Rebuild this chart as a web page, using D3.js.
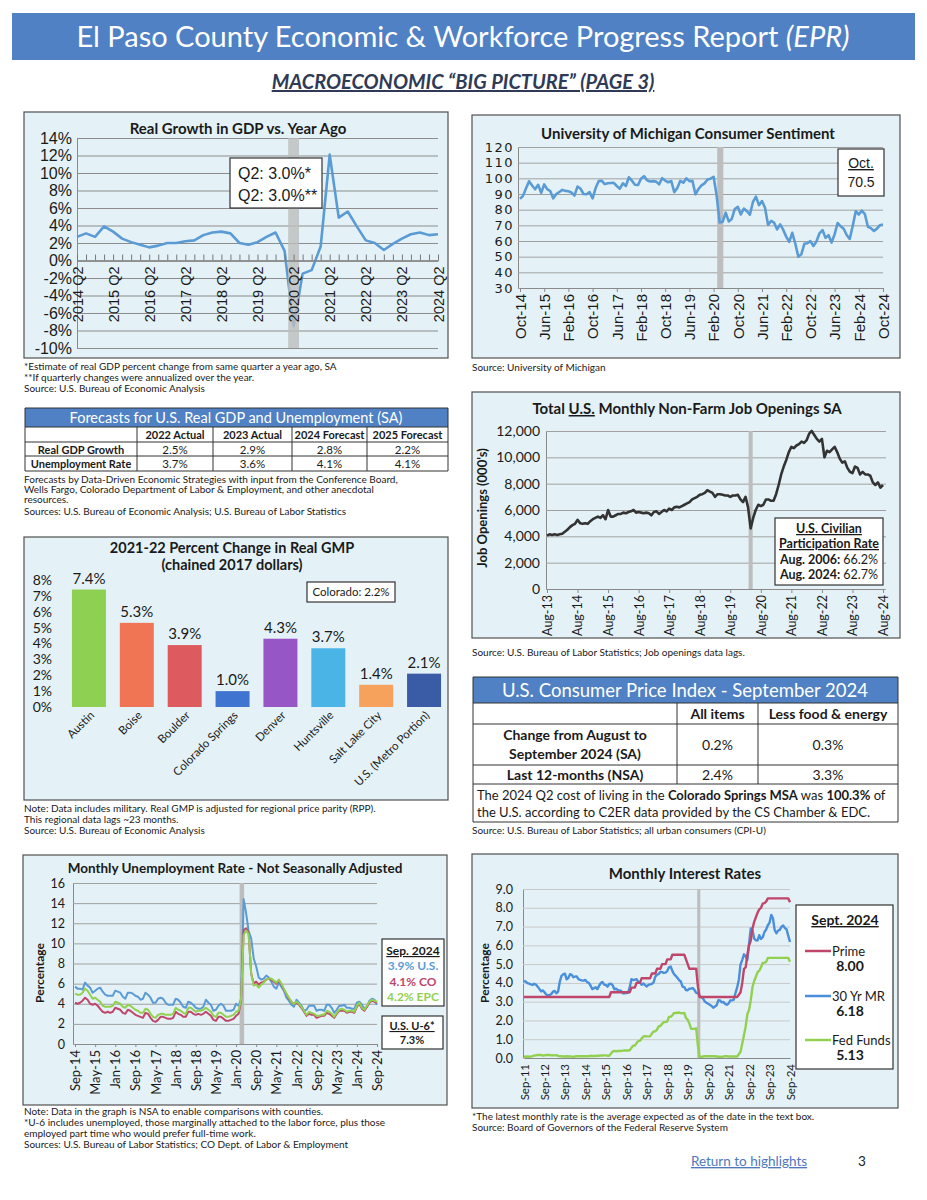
<!DOCTYPE html>
<html>
<head>
<meta charset="utf-8">
<script src="https://cdn.jsdelivr.net/npm/d3@7"></script>
<style>
  body { margin: 0; background: #fff; }
</style>
</head>
<body>
<svg id="page" width="927" height="1200"></svg>
<script>
// ---------- data ----------
const gdpTickLabels = ['2014 Q2', '2015 Q2', '2016 Q2', '2017 Q2', '2018 Q2', '2019 Q2', '2020 Q2', '2021 Q2', '2022 Q2', '2023 Q2', '2024 Q2'];
const gdpYTicks = [-10, -8, -6, -4, -2, 0, 2, 4, 6, 8, 10, 12, 14];
// 2014 Q2 .. 2024 Q2, % change from same quarter a year ago
const gdpGrowth = [
  2.7, 3.1, 2.7,
  3.9, 3.3, 2.5, 2.1,
  1.8, 1.5, 1.7, 2.0,
  2.0, 2.2, 2.3, 2.9,
  3.2, 3.3, 3.1, 2.0,
  1.8, 2.1, 2.7, 3.2,
  1.1, -7.5, -1.5, -1.1,
  1.6, 12.1, 4.9, 5.6,
  3.9, 2.3, 2.0, 1.2,
  1.9, 2.5, 3.0, 3.2,
  2.9, 3.0
];

const forecastCols = ['2022 Actual', '2023 Actual', '2024 Forecast', '2025 Forecast'];
const forecastRows = ['Real GDP Growth', 'Unemployment Rate'];
const forecastGdp = ['2.5%', '2.9%', '2.8%', '2.2%'];
const forecastUnemp = ['3.7%', '3.6%', '4.1%', '4.1%'];

const gmpCities = ['Austin', 'Boise', 'Boulder', 'Colorado Springs', 'Denver', 'Huntsville', 'Salt Lake City', 'U.S. (Metro Portion)'];
const gmpChange = [7.4, 5.3, 3.9, 1.0, 4.3, 3.7, 1.4, 2.1];
const gmpYTicks = [0, 1, 2, 3, 4, 5, 6, 7, 8];

const unempTickLabels = ['Sep-14', 'May-15', 'Jan-16', 'Sep-16', 'May-17', 'Jan-18', 'Sep-18', 'May-19', 'Jan-20', 'Sep-20', 'May-21', 'Jan-22', 'Sep-22', 'May-23', 'Jan-24', 'Sep-24'];
const unempYTicks = [0, 2, 4, 6, 8, 10, 12, 14, 16];
// monthly, Sep-14 .. Sep-24
const unempUS = [
  5.7, 5.5, 5.5, 5.4,
  6.1, 5.8, 5.6, 5.1, 5.3, 5.5, 5.6, 5.2, 4.9, 4.8, 4.8, 4.8,
  5.3, 5.2, 5.1, 4.7, 4.5, 5.1, 5.1, 5.0, 4.8, 4.7, 4.4, 4.5,
  5.1, 4.9, 4.6, 4.1, 4.1, 4.5, 4.6, 4.5, 4.1, 3.9, 3.9, 3.9,
  4.5, 4.4, 4.1, 3.7, 3.6, 4.2, 4.1, 3.9, 3.6, 3.5, 3.5, 3.7,
  4.4, 4.1, 3.9, 3.3, 3.4, 3.8, 4.0, 3.8, 3.3, 3.3, 3.3, 3.4,
  4.0, 3.8, 4.5, 14.4, 13.0, 11.2, 10.5, 8.5, 7.7, 6.6, 6.4, 6.5,
  6.8, 6.6, 6.2, 5.7, 5.5, 6.1, 5.7, 5.3, 4.6, 4.3, 3.9, 3.7,
  4.4, 4.1, 3.8, 3.3, 3.4, 3.8, 3.8, 3.8, 3.3, 3.4, 3.4, 3.3,
  3.9, 3.9, 3.6, 3.1, 3.4, 3.8, 3.8, 3.9, 3.6, 3.6, 3.5, 3.5,
  4.1, 4.2, 3.9, 3.5, 3.7, 4.3, 4.5, 4.4, 3.9
];
const unempCO = [
  4.1, 4.0, 4.1, 4.3,
  4.6, 4.4, 4.0, 3.9, 4.0, 3.8, 3.5, 3.2, 3.1, 3.2, 3.1, 3.2,
  3.6, 3.5, 3.4, 3.1, 3.0, 3.4, 3.3, 3.1, 2.9, 2.8, 2.7, 2.6,
  3.1, 3.0, 2.6, 2.3, 2.2, 2.4, 2.7, 2.7, 2.6, 2.5, 2.5, 2.6,
  3.2, 3.0, 2.9, 2.7, 2.7, 3.2, 3.2, 3.0, 2.9, 3.0, 2.9, 3.0,
  3.2, 3.0, 2.8, 2.4, 2.3, 2.7, 2.7, 2.5, 2.3, 2.3, 2.4, 2.5,
  2.8, 3.0, 4.3, 11.3, 11.5, 11.0, 7.0, 6.0, 6.2, 5.9, 6.1, 6.2,
  6.4, 6.5, 6.4, 6.2, 6.0, 6.3, 5.9, 5.4, 5.0, 4.5, 4.2, 4.0,
  4.1, 3.9, 3.6, 3.2, 2.8, 3.0, 2.9, 2.9, 2.6, 2.7, 2.8, 2.8,
  3.1, 3.0, 2.8, 2.6, 3.0, 3.3, 3.3, 3.3, 3.1, 3.2, 3.2, 3.1,
  3.7, 4.0, 3.5, 3.3, 3.7, 4.1, 4.3, 4.2, 4.1
];
const unempEPC = [
  5.0, 4.9, 4.9, 5.1,
  5.5, 5.3, 4.9, 4.5, 4.6, 4.4, 4.2, 3.8, 3.7, 3.7, 3.7, 3.8,
  4.2, 4.1, 4.0, 3.7, 3.6, 3.9, 3.8, 3.6, 3.4, 3.3, 3.1, 3.1,
  3.5, 3.4, 3.0, 2.7, 2.6, 2.9, 3.0, 3.0, 2.9, 2.9, 2.9, 3.0,
  3.6, 3.4, 3.3, 3.1, 3.0, 3.6, 3.6, 3.4, 3.2, 3.3, 3.3, 3.4,
  3.6, 3.4, 3.2, 2.8, 2.7, 3.1, 3.1, 2.9, 2.7, 2.7, 2.8, 2.9,
  3.2, 3.3, 4.5, 10.8, 11.3, 10.9, 7.0, 5.8, 5.9, 5.6, 5.9, 6.1,
  6.4, 6.5, 6.5, 6.3, 6.1, 6.4, 6.0, 5.5, 5.0, 4.6, 4.2, 4.0,
  4.2, 4.0, 3.7, 3.3, 2.9, 3.2, 3.1, 3.0, 2.8, 2.8, 2.9, 2.9,
  3.3, 3.2, 3.0, 2.7, 3.1, 3.4, 3.5, 3.4, 3.2, 3.3, 3.3, 3.2,
  3.8, 4.1, 3.6, 3.4, 3.8, 4.2, 4.4, 4.3, 4.2
];

const sentimentTickLabels = ['Oct-14', 'Jun-15', 'Feb-16', 'Oct-16', 'Jun-17', 'Feb-18', 'Oct-18', 'Jun-19', 'Feb-20', 'Oct-20', 'Jun-21', 'Feb-22', 'Oct-22', 'Jun-23', 'Feb-24', 'Oct-24'];
const sentimentYTicks = [30, 40, 50, 60, 70, 80, 90, 100, 110, 120];
// monthly, Oct-14 .. Oct-24
const sentiment = [
  86.9, 88.8, 93.6,
  98.1, 95.4, 93.0, 95.9, 90.7, 96.1, 93.1, 91.9, 87.2, 90.0, 91.3, 92.6,
  92.0, 91.7, 91.0, 89.0, 94.7, 93.5, 90.0, 89.8, 91.2, 87.2, 93.8, 98.2,
  98.5, 96.3, 96.9, 97.0, 97.1, 95.1, 93.4, 96.8, 95.1, 100.7, 98.5, 95.9,
  95.7, 99.7, 101.4, 98.8, 98.0, 98.2, 97.9, 96.2, 100.1, 98.6, 97.5, 98.3,
  91.2, 93.8, 98.4, 97.2, 100.0, 98.2, 98.4, 89.8, 93.2, 95.5, 96.8, 99.3,
  99.8, 101.0, 89.1, 71.8, 72.3, 78.1, 72.5, 74.1, 80.4, 81.8, 76.9, 80.7,
  79.0, 76.8, 84.9, 88.3, 82.9, 85.5, 81.2, 70.3, 72.8, 71.7, 67.4, 70.6,
  67.2, 62.8, 59.4, 65.2, 58.4, 50.0, 51.5, 58.2, 58.6, 59.9, 56.8, 59.7,
  64.9, 67.0, 62.0, 63.7, 59.0, 64.2, 71.5, 69.4, 67.8, 63.8, 61.3, 69.7,
  79.0, 76.9, 79.4, 77.2, 69.1, 68.2, 66.4, 67.9, 70.1, 70.5
];

const openingsTickLabels = ['Aug-13', 'Aug-14', 'Aug-15', 'Aug-16', 'Aug-17', 'Aug-18', 'Aug-19', 'Aug-20', 'Aug-21', 'Aug-22', 'Aug-23', 'Aug-24'];
const openingsYTicks = [0, 2000, 4000, 6000, 8000, 10000, 12000];
// monthly, Aug-13 .. Aug-24, thousands
const jobOpenings = [
  4050, 4150, 4100, 4150, 4100,
  4150, 4200, 4350, 4500, 4700, 4850, 4950, 5250, 5000, 4950, 5000, 4950,
  5150, 5300, 5400, 5500, 5400, 5600, 5300, 6000, 5500, 5500, 5600, 5700,
  5700, 5800, 5750, 5850, 5900, 6000, 5800, 5850, 5800, 5750, 5800, 5750,
  5600, 5850, 5900, 5700, 5850, 6000, 5900, 6100, 6000, 6200, 6250, 6200,
  6300, 6400, 6500, 6600, 6800, 6900, 7000, 7150, 7200, 7300, 7500, 7400,
  7300, 7000, 7200, 7200, 7150, 7100, 7100, 7000, 7100, 7100, 7150, 6800,
  6600, 7000, 6200, 4600, 5400, 6000, 6400, 6300, 6400, 6800, 6800, 6700,
  6700, 7200, 7900, 8700, 9300, 9800, 10400, 10800, 10700, 10900, 11000, 11200,
  11100, 11300, 11800, 12000, 11700, 11400, 11200, 11400, 10000, 10500, 10400, 10600,
  10800, 10400, 9900, 9600, 9700, 9200, 8900, 8800, 9300, 9200, 8700, 8900,
  8700, 8700, 8600, 8100, 7900, 8100, 7700, 7900
];

const cpiCols = ['All items', 'Less food & energy'];
const cpiMonthly = ['0.2%', '0.3%'];
const cpiAnnual = ['2.4%', '3.3%'];

const rateTickLabels = ['Sep-11', 'Sep-12', 'Sep-13', 'Sep-14', 'Sep-15', 'Sep-16', 'Sep-17', 'Sep-18', 'Sep-19', 'Sep-20', 'Sep-21', 'Sep-22', 'Sep-23', 'Sep-24'];
const rateYTicks = [0, 1, 2, 3, 4, 5, 6, 7, 8, 9];
// monthly, Sep-11 .. Sep-24
const primeRate = [
  3.25, 3.25, 3.25, 3.25,
  3.25, 3.25, 3.25, 3.25, 3.25, 3.25, 3.25, 3.25, 3.25, 3.25, 3.25, 3.25,
  3.25, 3.25, 3.25, 3.25, 3.25, 3.25, 3.25, 3.25, 3.25, 3.25, 3.25, 3.25,
  3.25, 3.25, 3.25, 3.25, 3.25, 3.25, 3.25, 3.25, 3.25, 3.25, 3.25, 3.25,
  3.25, 3.25, 3.25, 3.25, 3.25, 3.25, 3.25, 3.25, 3.25, 3.25, 3.25, 3.50,
  3.50, 3.50, 3.50, 3.50, 3.50, 3.50, 3.50, 3.50, 3.50, 3.50, 3.50, 3.75,
  3.75, 3.75, 4.00, 4.00, 4.00, 4.25, 4.25, 4.25, 4.25, 4.25, 4.25, 4.50,
  4.50, 4.50, 4.75, 4.75, 4.75, 5.00, 5.00, 5.00, 5.25, 5.25, 5.25, 5.50,
  5.50, 5.50, 5.50, 5.50, 5.50, 5.50, 5.50, 5.25, 5.00, 4.75, 4.75, 4.75,
  4.75, 4.75, 3.80, 3.25, 3.25, 3.25, 3.25, 3.25, 3.25, 3.25, 3.25, 3.25,
  3.25, 3.25, 3.25, 3.25, 3.25, 3.25, 3.25, 3.25, 3.25, 3.25, 3.25, 3.25,
  3.25, 3.25, 3.37, 3.50, 4.00, 4.75, 4.83, 5.50, 6.00, 6.25, 6.90, 7.25,
  7.50, 7.74, 7.92, 8.00, 8.22, 8.25, 8.33, 8.50, 8.50, 8.50, 8.50, 8.50,
  8.50, 8.50, 8.50, 8.50, 8.50, 8.50, 8.50, 8.50, 8.30
];
const mortgageRate = [
  4.11, 4.07, 3.99, 3.96,
  3.92, 3.89, 3.95, 3.91, 3.80, 3.68, 3.55, 3.60, 3.50, 3.38, 3.35, 3.35,
  3.41, 3.53, 3.57, 3.45, 3.54, 4.07, 4.37, 4.46, 4.49, 4.19, 4.26, 4.46,
  4.43, 4.30, 4.34, 4.34, 4.19, 4.16, 4.13, 4.12, 4.16, 4.04, 4.00, 3.86,
  3.67, 3.71, 3.77, 3.67, 3.84, 3.98, 4.05, 3.91, 3.89, 3.80, 3.94, 3.96,
  3.87, 3.66, 3.69, 3.61, 3.60, 3.57, 3.44, 3.44, 3.46, 3.47, 3.77, 4.20,
  4.15, 4.17, 4.20, 4.05, 4.01, 3.90, 3.97, 3.88, 3.81, 3.90, 3.92, 3.95,
  4.03, 4.33, 4.44, 4.47, 4.59, 4.57, 4.53, 4.55, 4.63, 4.83, 4.87, 4.64,
  4.46, 4.37, 4.27, 4.14, 4.07, 3.80, 3.77, 3.62, 3.61, 3.69, 3.70, 3.72,
  3.62, 3.47, 3.45, 3.31, 3.23, 3.16, 3.02, 2.94, 2.89, 2.83, 2.77, 2.68,
  2.74, 2.81, 3.08, 3.06, 2.96, 2.98, 2.87, 2.84, 2.90, 3.07, 3.07, 3.10,
  3.45, 3.76, 4.17, 4.98, 5.23, 5.52, 5.41, 5.22, 6.11, 6.90, 6.81, 6.36,
  6.27, 6.26, 6.54, 6.34, 6.43, 6.71, 6.84, 7.07, 7.20, 7.62, 7.44, 6.82,
  6.64, 6.78, 6.82, 6.99, 7.06, 6.92, 6.85, 6.50, 6.18
];
const fedFunds = [
  0.08, 0.07, 0.08, 0.07,
  0.08, 0.10, 0.13, 0.14, 0.16, 0.16, 0.16, 0.13, 0.14, 0.16, 0.16, 0.16,
  0.14, 0.15, 0.14, 0.15, 0.11, 0.09, 0.09, 0.08, 0.08, 0.09, 0.08, 0.09,
  0.07, 0.07, 0.08, 0.09, 0.09, 0.10, 0.09, 0.09, 0.09, 0.09, 0.09, 0.12,
  0.11, 0.11, 0.11, 0.12, 0.12, 0.13, 0.13, 0.14, 0.14, 0.12, 0.12, 0.24,
  0.34, 0.38, 0.36, 0.37, 0.37, 0.38, 0.39, 0.40, 0.40, 0.40, 0.41, 0.54,
  0.65, 0.66, 0.79, 0.90, 0.91, 1.04, 1.15, 1.16, 1.15, 1.15, 1.16, 1.30,
  1.41, 1.42, 1.51, 1.69, 1.70, 1.82, 1.91, 1.91, 1.95, 2.19, 2.20, 2.27,
  2.40, 2.40, 2.41, 2.42, 2.39, 2.38, 2.40, 2.13, 2.04, 1.83, 1.55, 1.55,
  1.55, 1.58, 0.65, 0.05, 0.05, 0.08, 0.09, 0.10, 0.09, 0.09, 0.09, 0.09,
  0.09, 0.08, 0.07, 0.07, 0.06, 0.08, 0.10, 0.09, 0.08, 0.08, 0.08, 0.08,
  0.08, 0.08, 0.20, 0.33, 0.77, 1.21, 1.68, 2.33, 2.56, 3.08, 3.78, 4.10,
  4.33, 4.57, 4.65, 4.83, 5.06, 5.08, 5.12, 5.33, 5.33, 5.33, 5.33, 5.33,
  5.33, 5.33, 5.33, 5.33, 5.33, 5.33, 5.33, 5.33, 5.13
];

// ---------- styles ----------
const FONT = "Lato, 'Open Sans', sans-serif";
const ARIAL = "'Liberation Sans', Arial, sans-serif";
const WIDE = "'DejaVu Sans', sans-serif";
const panelFill = '#e4f2f7';
const headerBlue = '#4f81c4';
const lineBlue = '#5b9bd5';
const crimson = '#c0456a';
const green = '#92d050';
const cityColors = ['#8ed152', '#ef7555', '#dd5a5e', '#3f74d0', '#9656c6', '#4bb4e6', '#f6a15c', '#3a5ba6'];

const svg = d3.select('#page');
svg.append('rect').attr('width', 927).attr('height', 1200).attr('fill', '#fff');

const label = (g, x, y, str, o = {}) =>
  g.append('text')
    .attr('x', x)
    .attr('y', y)
    .attr('font-family', o.font || FONT)
    .attr('font-size', o.size || 11)
    .attr('font-weight', o.bold ? 'bold' : null)
    .attr('font-style', o.italic ? 'italic' : null)
    .attr('text-decoration', o.underline ? 'underline' : null)
    .attr('text-anchor', o.anchor || 'start')
    .attr('fill', o.fill || '#1a1a1a')
    .text(str);

// mixed bold / normal runs on one line
const richLabel = (x, y, parts, o = {}) => {
  const t = svg.append('text')
    .attr('x', x)
    .attr('y', y)
    .attr('font-family', FONT)
    .attr('font-size', o.size || 12)
    .attr('text-anchor', o.anchor || 'start')
    .attr('fill', '#1a1a1a');
  parts.forEach(([str, bold, underline]) =>
    t.append('tspan')
      .attr('font-weight', bold ? 'bold' : 'normal')
      .attr('text-decoration', underline ? 'underline' : null)
      .text(str));
  return t;
};

const panel = (x, y, w, h) =>
  svg.append('rect')
    .attr('x', x).attr('y', y)
    .attr('width', w).attr('height', h)
    .attr('fill', panelFill)
    .attr('stroke', '#505050')
    .attr('stroke-width', 1.2);

const box = (x, y, w, h) =>
  svg.append('rect')
    .attr('x', x).attr('y', y)
    .attr('width', w).attr('height', h)
    .attr('fill', '#fff')
    .attr('stroke', '#333')
    .attr('stroke-width', 1.2);

const notes = (x, y, lines, step = 11) =>
  lines.forEach((t, i) => label(svg, x, y + i * step, t, { size: 10 }));

const timeChart = cfg => {
  const g = svg.append('g');
  const n = cfg.series[0].values.length;
  const x = d3.scaleLinear().domain([0, n - 1]).range(cfg.xRange);
  const y = d3.scaleLinear().domain(d3.extent(cfg.yTicks)).range(cfg.yRange);
  const [left, right] = cfg.gridX;

  const yAxis = g.append('g')
    .attr('transform', `translate(${left},0)`)
    .call(d3.axisLeft(y)
      .tickValues(cfg.yTicks)
      .tickFormat(cfg.yFormat)
      .tickSize(-(right - left))
      .tickPadding(cfg.yPad));
  yAxis.select('.domain').attr('stroke', '#8a8a8a');
  yAxis.selectAll('.tick line').attr('stroke', cfg.gridColor || '#a0a0a0');
  yAxis.selectAll('text')
    .attr('font-size', cfg.ySize)
    .attr('font-family', cfg.yFont || FONT)
    .attr('letter-spacing', cfg.ySpacing || null)
    .attr('fill', '#1a1a1a');

  const band = () =>
    g.append('rect')
      .attr('x', x(cfg.band[0]))
      .attr('width', x(cfg.band[1]) - x(cfg.band[0]))
      .attr('y', cfg.yRange[1])
      .attr('height', cfg.yRange[0] - cfg.yRange[1])
      .attr('fill', '#bdbdbd')
      .attr('opacity', cfg.bandOnTop ? 0.8 : 1);

  if (!cfg.bandOnTop) band();

  const lineFn = d3.line().x((d, i) => x(i)).y(d => y(d));
  cfg.series.forEach(s =>
    g.append('path')
      .datum(s.values)
      .attr('d', lineFn)
      .attr('fill', 'none')
      .attr('stroke', s.color)
      .attr('stroke-width', s.width || 2.2)
      .attr('stroke-linejoin', 'round'));

  if (cfg.bandOnTop) band();

  const axisY = cfg.xAxisAt != null ? y(cfg.xAxisAt) : cfg.yRange[0];
  if (cfg.minorTicks) {
    const mt = g.append('g')
      .attr('transform', `translate(0,${axisY})`)
      .call(d3.axisBottom(x).tickValues(d3.range(n)).tickFormat('').tickSize(-cfg.minorTicks).tickSizeOuter(0));
    mt.selectAll('line').attr('stroke', '#777');
    mt.select('.domain').attr('stroke', '#777');
  }
  const xAxis = g.append('g')
    .attr('transform', `translate(0,${axisY})`)
    .call(d3.axisBottom(x)
      .tickValues(cfg.xLabels.map((d, i) => i * cfg.xStep))
      .tickFormat((d, i) => cfg.xLabels[i])
      .tickSize(cfg.xTick)
      .tickSizeOuter(0));
  xAxis.select('.domain').attr('stroke', '#8a8a8a');
  xAxis.selectAll('.tick line').attr('stroke', '#8a8a8a');
  xAxis.selectAll('text')
    .attr('transform', 'rotate(-90)')
    .attr('text-anchor', 'end')
    .attr('x', -cfg.xPad)
    .attr('y', 0)
    .attr('dy', '0.35em')
    .attr('font-size', cfg.xSize)
    .attr('font-family', cfg.xFont || FONT)
    .attr('fill', '#1a1a1a');

  return { g, x, y };
};

// ---------- page header ----------
svg.append('rect')
  .attr('x', 12).attr('y', 13)
  .attr('width', 903).attr('height', 47)
  .attr('fill', headerBlue);
const head = svg.append('text')
  .attr('x', 463).attr('y', 47)
  .attr('text-anchor', 'middle')
  .attr('font-family', FONT)
  .attr('font-size', 29)
  .attr('fill', '#fff');
head.append('tspan').text('El Paso County Economic & Workforce Progress Report ');
head.append('tspan').attr('font-style', 'italic').text('(EPR)');
label(svg, 463, 89, 'MACROECONOMIC “BIG PICTURE” (PAGE 3)', {
  size: 20, bold: true, italic: true, underline: true, anchor: 'middle', fill: '#2f3a56'
});

// ---------- real GDP growth ----------
panel(24, 112, 424, 246);
label(svg, 238, 134, 'Real Growth in GDP vs. Year Ago', { size: 15, bold: true, anchor: 'middle' });
timeChart({
  series: [{ values: gdpGrowth, color: lineBlue, width: 2.6 }],
  xRange: [77, 438],
  gridX: [77, 438],
  yTicks: gdpYTicks,
  yRange: [348, 138],
  yFormat: d => `${d}%`,
  yFont: ARIAL,
  ySize: 16,
  yPad: 5,
  xAxisAt: 0,
  xLabels: gdpTickLabels,
  xStep: 4,
  xTick: 0,
  xPad: 6,
  xSize: 14.5,
  xFont: ARIAL,
  minorTicks: 6,
  band: [23.4, 24.6],
  bandOnTop: true,
  gridColor: '#8c8c8c'
});
box(230, 158, 92, 50);
label(svg, 238, 179, 'Q2:  3.0%*', { size: 16, font: ARIAL });
label(svg, 238, 201, 'Q2:  3.0%**', { size: 16, font: ARIAL });
notes(24, 370, [
  '*Estimate of real GDP percent change from same quarter a year ago, SA',
  '**If quarterly changes were annualized over the year.',
  'Source: U.S. Bureau of Economic Analysis'
]);

// ---------- forecast table ----------
const fx = [25, 137, 213, 292, 367, 448];
const fy = [408, 427, 442, 456, 471];
svg.append('rect').attr('x', fx[0]).attr('y', fy[0]).attr('width', fx[5] - fx[0]).attr('height', fy[1] - fy[0]).attr('fill', headerBlue);
label(svg, 236, 423, 'Forecasts for U.S. Real GDP and Unemployment (SA)', { size: 14.5, anchor: 'middle', fill: '#fff' });
svg.append('rect').attr('x', fx[0]).attr('y', fy[1]).attr('width', fx[5] - fx[0]).attr('height', fy[4] - fy[1]).attr('fill', '#fff');
const ftab = svg.append('g').attr('stroke', '#333').attr('stroke-width', 1);
fy.forEach(yy => ftab.append('line').attr('x1', fx[0]).attr('x2', fx[5]).attr('y1', yy).attr('y2', yy));
ftab.append('line').attr('x1', fx[0]).attr('x2', fx[0]).attr('y1', fy[0]).attr('y2', fy[4]);
ftab.append('line').attr('x1', fx[5]).attr('x2', fx[5]).attr('y1', fy[0]).attr('y2', fy[4]);
fx.slice(1, 5).forEach(xx => ftab.append('line').attr('x1', xx).attr('x2', xx).attr('y1', fy[1]).attr('y2', fy[4]));
forecastCols.forEach((c, i) => label(svg, (fx[i + 1] + fx[i + 2]) / 2, 439, c, { size: 11, bold: true, anchor: 'middle' }));
forecastRows.forEach((r, j) => {
  const yy = fy[j + 2] + 11.5;
  label(svg, (fx[0] + fx[1]) / 2, yy, r, { size: 11, bold: true, anchor: 'middle' });
  const vals = j === 0 ? forecastGdp : forecastUnemp;
  vals.forEach((v, i) => label(svg, (fx[i + 1] + fx[i + 2]) / 2, yy, v, { size: 11.5, anchor: 'middle' }));
});
notes(24, 483, [
  'Forecasts by Data-Driven Economic Strategies with input from the Conference Board,',
  'Wells Fargo, Colorado Department of Labor & Employment, and other anecdotal',
  'resources.'
], 10);
notes(24, 515, ['Sources: U.S. Bureau of Economic Analysis; U.S. Bureau of Labor Statistics']);

// ---------- real GMP bars ----------
panel(24, 537, 424, 263);
label(svg, 232, 553, '2021-22 Percent Change in Real GMP', { size: 14.5, bold: true, anchor: 'middle' });
label(svg, 232, 570, '(chained 2017 dollars)', { size: 14.5, bold: true, anchor: 'middle' });
const gx = d3.scaleBand().domain(gmpCities).range([65, 448]).paddingInner(0.29).paddingOuter(0.145);
const gy = d3.scaleLinear().domain([0, 8]).range([707, 580]);
const gmpAxis = svg.append('g')
  .attr('transform', 'translate(58,0)')
  .call(d3.axisLeft(gy).tickValues(gmpYTicks).tickFormat(d => `${d}%`).tickSize(0).tickPadding(6));
gmpAxis.select('.domain').remove();
gmpAxis.selectAll('text').attr('font-size', 14).attr('font-family', FONT).attr('fill', '#1a1a1a');
svg.append('g')
  .selectAll('rect')
  .data(gmpChange)
  .enter()
  .append('rect')
  .attr('x', (d, i) => gx(gmpCities[i]))
  .attr('y', d => gy(d))
  .attr('width', gx.bandwidth())
  .attr('height', d => gy(0) - gy(d))
  .attr('fill', (d, i) => cityColors[i]);
svg.append('g')
  .selectAll('text')
  .data(gmpChange)
  .enter()
  .append('text')
  .attr('x', (d, i) => gx(gmpCities[i]) + gx.bandwidth() / 2)
  .attr('y', d => gy(d) - 6)
  .attr('text-anchor', 'middle')
  .attr('font-family', FONT)
  .attr('font-size', 15)
  .attr('fill', '#1a1a1a')
  .text(d => `${d.toFixed(1)}%`);
svg.append('g')
  .selectAll('text')
  .data(gmpCities)
  .enter()
  .append('text')
  .attr('transform', d => `translate(${gx(d) + gx.bandwidth() / 2 + 6},${716}) rotate(-45)`)
  .attr('text-anchor', 'end')
  .attr('font-family', FONT)
  .attr('font-size', 11.5)
  .attr('fill', '#1a1a1a')
  .text(d => d);
box(307, 582, 88, 20);
label(svg, 351, 596, 'Colorado:  2.2%', { size: 11.5, anchor: 'middle' });
notes(24, 812, [
  'Note: Data includes military. Real GMP is adjusted for regional price parity (RPP).',
  'This regional data lags ~23 months.',
  'Source: U.S. Bureau of Economic Analysis'
]);

// ---------- unemployment ----------
panel(23, 855, 424, 250);
label(svg, 235, 873, 'Monthly Unemployment Rate - Not Seasonally Adjusted', { size: 13.5, bold: true, anchor: 'middle' });
timeChart({
  series: [
    { values: unempUS, color: lineBlue, width: 2 },
    { values: unempCO, color: crimson, width: 2 },
    { values: unempEPC, color: green, width: 2 }
  ],
  xRange: [75, 377],
  gridX: [73, 377],
  yTicks: unempYTicks,
  yRange: [1044, 883],
  yFormat: d => d,
  ySize: 12.5,
  yPad: 8,
  xLabels: unempTickLabels,
  xStep: 8,
  xTick: 3,
  xPad: 6,
  xSize: 13,
  band: [65.4, 67.2]
});
label(svg, 0, 0, 'Percentage', { size: 12, bold: true, anchor: 'middle' })
  .attr('transform', 'translate(44,973) rotate(-90)');
box(382, 939, 62, 67);
label(svg, 413, 955, 'Sep. 2024', { size: 12, bold: true, underline: true, anchor: 'middle' });
label(svg, 413, 970, '3.9% U.S.', { size: 12, bold: true, anchor: 'middle', fill: lineBlue });
label(svg, 413, 986, '4.1% CO', { size: 12, bold: true, anchor: 'middle', fill: crimson });
label(svg, 413, 1001, '4.2% EPC', { size: 12, bold: true, anchor: 'middle', fill: green });
box(382, 1016, 61, 33);
label(svg, 412, 1030, 'U.S. U-6*', { size: 11, bold: true, underline: true, anchor: 'middle' });
label(svg, 412, 1044, '7.3%', { size: 11, bold: true, anchor: 'middle' });
notes(24, 1115, [
  'Note: Data in the graph is NSA to enable comparisons with counties.',
  '*U-6 includes unemployed, those marginally attached to the labor force, plus those',
  'employed part time who would prefer full-time work.',
  'Sources: U.S. Bureau of Labor Statistics; CO Dept. of Labor & Employment'
]);

// ---------- consumer sentiment ----------
panel(472, 115, 428, 243);
label(svg, 688, 139, 'University of Michigan Consumer Sentiment', { size: 15, bold: true, anchor: 'middle' });
timeChart({
  series: [{ values: sentiment, color: lineBlue, width: 2.6 }],
  xRange: [520, 883],
  gridX: [518, 883],
  yTicks: sentimentYTicks,
  yRange: [288, 147],
  yFormat: d => d,
  yFont: WIDE,
  ySize: 13,
  ySpacing: 1.5,
  yPad: 4,
  xLabels: sentimentTickLabels,
  xStep: 8,
  xTick: 4,
  xPad: 6,
  xSize: 15,
  xFont: ARIAL,
  band: [65.2, 67.2]
});
box(838, 149, 46, 47);
label(svg, 861, 168, 'Oct.', { size: 14, underline: true, anchor: 'middle', font: ARIAL });
label(svg, 861, 187, '70.5', { size: 14, anchor: 'middle', font: ARIAL });
notes(472, 371, ['Source: University of Michigan']);

// ---------- job openings ----------
panel(472, 392, 428, 246);
richLabel(687, 414, [['Total ', true], ['U.S.', true, true], [' Monthly Non-Farm Job Openings SA', true]], { size: 15, anchor: 'middle' });
timeChart({
  series: [{ values: jobOpenings, color: '#333', width: 2.6 }],
  xRange: [547, 883],
  gridX: [546, 886],
  yTicks: openingsYTicks,
  yRange: [589, 431],
  yFormat: d3.format(','),
  ySize: 14,
  yPad: 6,
  xLabels: openingsTickLabels,
  xStep: 12,
  xTick: 4,
  xPad: 6,
  xSize: 12.5,
  band: [79.2, 80.8]
});
label(svg, 0, 0, 'Job Openings (000\'s)', { size: 13, bold: true, anchor: 'middle' })
  .attr('transform', 'translate(487,508) rotate(-90)');
box(775, 518, 108, 67);
label(svg, 829, 533, 'U.S. Civilian', { size: 12.5, bold: true, underline: true, anchor: 'middle' });
label(svg, 829, 548, 'Participation Rate', { size: 12.5, bold: true, underline: true, anchor: 'middle' });
richLabel(829, 564, [['Aug. 2006: ', true], ['66.2%', false]], { size: 12.5, anchor: 'middle' });
richLabel(829, 579, [['Aug. 2024: ', true], ['62.7%', false]], { size: 12.5, anchor: 'middle' });
notes(472, 656, ['Source: U.S. Bureau of Labor Statistics; Job openings data lags.']);

// ---------- CPI table ----------
const cx = [473, 677, 758, 898];
const cy = [677, 703, 724, 765, 784, 822];
svg.append('rect').attr('x', cx[0]).attr('y', cy[0]).attr('width', cx[3] - cx[0]).attr('height', cy[1] - cy[0]).attr('fill', headerBlue);
label(svg, 685, 697, 'U.S. Consumer Price Index - September 2024', { size: 18.5, anchor: 'middle', fill: '#fff' });
svg.append('rect').attr('x', cx[0]).attr('y', cy[1]).attr('width', cx[3] - cx[0]).attr('height', cy[5] - cy[1]).attr('fill', '#fff');
const ctab = svg.append('g').attr('stroke', '#333').attr('stroke-width', 1);
cy.forEach(yy => ctab.append('line').attr('x1', cx[0]).attr('x2', cx[3]).attr('y1', yy).attr('y2', yy));
ctab.append('line').attr('x1', cx[0]).attr('x2', cx[0]).attr('y1', cy[0]).attr('y2', cy[5]);
ctab.append('line').attr('x1', cx[3]).attr('x2', cx[3]).attr('y1', cy[0]).attr('y2', cy[5]);
cx.slice(1, 3).forEach(xx => ctab.append('line').attr('x1', xx).attr('x2', xx).attr('y1', cy[1]).attr('y2', cy[4]));
cpiCols.forEach((c, i) => label(svg, (cx[i + 1] + cx[i + 2]) / 2, 719, c, { size: 14, bold: true, anchor: 'middle' }));
label(svg, 575, 740, 'Change from August to', { size: 14, bold: true, anchor: 'middle' });
label(svg, 575, 759, 'September 2024 (SA)', { size: 14, bold: true, anchor: 'middle' });
cpiMonthly.forEach((v, i) => label(svg, (cx[i + 1] + cx[i + 2]) / 2, 750, v, { size: 14, anchor: 'middle' }));
label(svg, 575, 780, 'Last 12-months (NSA)', { size: 14, bold: true, anchor: 'middle' });
cpiAnnual.forEach((v, i) => label(svg, (cx[i + 1] + cx[i + 2]) / 2, 780, v, { size: 14, anchor: 'middle' }));
richLabel(477, 800, [
  ['The 2024 Q2 cost of living in the ', false],
  ['Colorado Springs MSA', true],
  [' was ', false],
  ['100.3%', true],
  [' of', false]
], { size: 13 });
richLabel(477, 817, [['the U.S. according to C2ER data provided by the CS Chamber & EDC.', false]], { size: 13 });
notes(472, 834, ['Source: U.S. Bureau of Labor Statistics; all urban consumers (CPI-U)']);

// ---------- interest rates ----------
panel(472, 854, 426, 254);
label(svg, 685, 879, 'Monthly Interest Rates', { size: 15, bold: true, anchor: 'middle' });
timeChart({
  series: [
    { values: fedFunds, color: green, width: 2.4 },
    { values: mortgageRate, color: '#4a8fdc', width: 2.4 },
    { values: primeRate, color: crimson, width: 2.4 }
  ],
  xRange: [524, 790],
  gridX: [523, 790],
  yTicks: rateYTicks,
  yRange: [1058, 889],
  yFormat: d3.format('.1f'),
  ySize: 12.5,
  yPad: 10,
  xLabels: rateTickLabels,
  xStep: 12,
  xTick: 0,
  xPad: 6,
  xSize: 11.5,
  band: [101.6, 103.4],
  gridColor: '#c8c8c8'
});
label(svg, 0, 0, 'Percentage', { size: 12, bold: true, anchor: 'middle' })
  .attr('transform', 'translate(489,973) rotate(-90)');
box(796, 905, 97, 164);
label(svg, 845, 925, 'Sept. 2024', { size: 14, bold: true, underline: true, anchor: 'middle' });
const legendItems = [
  { name: 'Prime', value: '8.00', color: crimson, y: 951 },
  { name: '30 Yr MR', value: '6.18', color: '#4a8fdc', y: 996 },
  { name: 'Fed Funds', value: '5.13', color: green, y: 1040 }
];
legendItems.forEach(d => {
  svg.append('line')
    .attr('x1', 805).attr('x2', 831)
    .attr('y1', d.y).attr('y2', d.y)
    .attr('stroke', d.color).attr('stroke-width', 2.5);
  label(svg, 832, d.y + 5, d.name, { size: 13 });
  label(svg, 850, d.y + 20, d.value, { size: 14, bold: true, anchor: 'middle' });
});
notes(472, 1120, [
  '*The latest monthly rate is the average expected as of the date in the text box.',
  'Source: Board of Governors of the Federal Reserve System'
]);

// ---------- footer ----------
label(svg, 749, 1166, 'Return to highlights', { size: 13.5, underline: true, anchor: 'middle', fill: '#4f78bd' });
label(svg, 862, 1166, '3', { size: 13.5, anchor: 'middle' });
</script>
</body>
</html>
